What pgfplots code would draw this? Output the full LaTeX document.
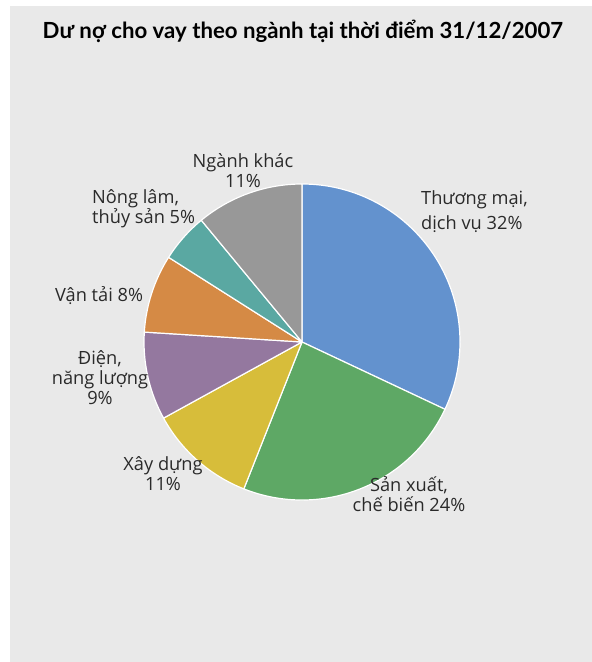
\documentclass[border=0pt]{standalone}
\usepackage{pgfplots}
\usepackage{pgfplotstable}
\pgfplotsset{compat=1.18}
\usepackage{fontspec}
\setmainfont{Lato}
\newfontfamily\labfont{Open Sans}
\definecolor{bgGray}{HTML}{E9E9E9}
\definecolor{pc0}{HTML}{6392CE}
\definecolor{pc1}{HTML}{5EA865}
\definecolor{pc2}{HTML}{D7BD3A}
\definecolor{pc3}{HTML}{94789F}
\definecolor{pc4}{HTML}{D58A45}
\definecolor{pc5}{HTML}{5AA8A2}
\definecolor{pc6}{HTML}{989898}
\definecolor{txt}{HTML}{2A2A2A}
\pgfplotstableread{
idx value
0 32
1 24
2 11
3 9
4 8
5 5
6 11
}\piedata
\begin{document}
\begin{tikzpicture}
\begin{axis}[x=1bp,y=1bp,xmin=0,xmax=592,ymin=0,ymax=662,hide axis,clip=false,scale only axis]
\fill[white] (axis cs:0,0) rectangle (axis cs:592,662);
\fill[bgGray] (axis cs:10,0) rectangle (axis cs:592,656);
\def\cum{0}
\pgfplotstablegetrowsof{\piedata}
\pgfmathtruncatemacro\N{\pgfplotsretval-1}
\pgfplotsforeachungrouped \i in {0,...,\N}{%
  \pgfplotstablegetelem{\i}{value}\of\piedata
  \let\v\pgfplotsretval
  \pgfmathsetmacro\aS{90-3.6*\cum}%
  \pgfmathsetmacro\aE{90-3.6*(\cum+\v)}%
  \pgfmathsetmacro\xS{302+158*cos(\aS)}%
  \pgfmathsetmacro\yS{320+158*sin(\aS)}%
  \edef\doit{\noexpand\fill[fill=pc\i,draw=white,line width=1.2bp,line join=round] (axis cs:302,320) -- (axis cs:\xS,\yS) arc[start angle=\aS,end angle=\aE,radius=158bp] -- cycle;}%
  \doit
  \pgfmathsetmacro\cum{\cum+\v}%
}
\node[font=\fontsize{22.3}{26}\selectfont\bfseries,text=black] at (axis cs:303,631) {Dư nợ cho vay theo ngành tại thời điểm 31/12/2007};
\begin{scope}[every node/.style={font=\labfont\fontsize{18.3}{20}\selectfont,text=txt,inner sep=0pt}]
\node[align=left,anchor=north west,font=\labfont\fontsize{18.3}{26}\selectfont] at (axis cs:421,662-190) {Thương mại,\\dịch vụ 32\%};
\node[align=center,anchor=north] at (axis cs:409,662-476) {Sản xuất,\\chế biến 24\%};
\node[align=center,anchor=north] at (axis cs:163,662-456) {Xây dựng\\11\%};
\node[align=center,anchor=north] at (axis cs:100,662-350) {Điện,\\năng lượng\\9\%};
\node[align=left,anchor=north west] at (axis cs:55,662-286) {Vận tải 8\%};
\node[align=left,anchor=north west] at (axis cs:92,662-189) {Nông lâm,\\thủy sản 5\%};
\node[align=center,anchor=north] at (axis cs:243,662-153) {Ngành khác\\11\%};
\end{scope}
\end{axis}
\end{tikzpicture}
\end{document}
